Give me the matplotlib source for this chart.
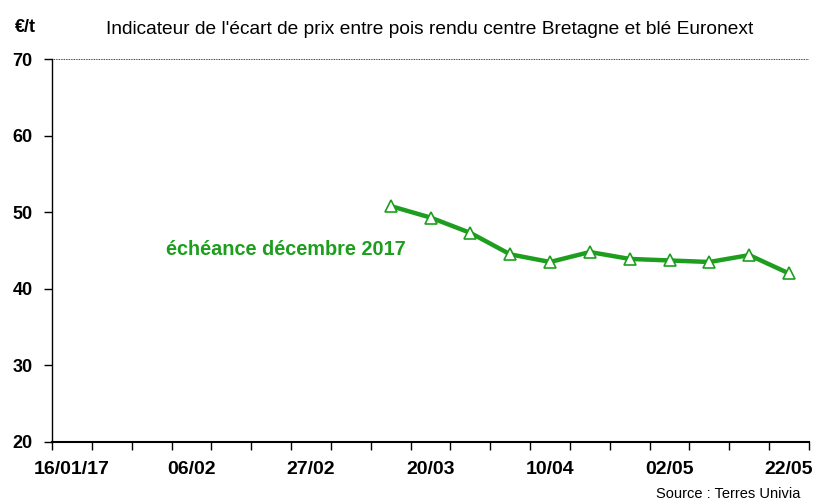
import numpy as np
import matplotlib.pyplot as plt

plt.rcParams['font.family'] = ['Liberation Sans', 'DejaVu Sans']

# weekly categories, label every 3rd week
weeks = ["16/01/17", "23/01", "30/01", "06/02", "13/02", "20/02", "27/02", "06/03",
         "13/03", "20/03", "27/03", "03/04", "10/04", "17/04", "24/04", "02/05",
         "09/05", "15/05", "22/05"]
shown = ["16/01/17", "06/02", "27/02", "20/03", "10/04", "02/05", "22/05"]

start_week = 8
ecart = [50.8, 49.3, 47.3, 44.5, 43.5, 44.8, 43.9, 43.7, 43.5, 44.4, 42.0]

green = '#1e9e1e'

fig = plt.figure(figsize=(8.13, 5.04), dpi=100)
ax = fig.add_axes([52/813, 62/504, 757/813, 383/504])

x = np.arange(start_week, start_week + len(ecart))
ax.plot(x, ecart, color=green, linewidth=3.2, marker='^', markersize=8,
        markerfacecolor='white', markeredgecolor=green, markeredgewidth=1.2,
        zorder=3)

ax.set_xlim(-0.5, len(weeks) - 0.5)
ax.set_ylim(20, 70)
ax.set_yticks(np.arange(20, 71, 10))
ax.set_yticklabels([str(v) for v in range(20, 71, 10)], fontsize=13, fontweight='bold')

ax.set_xticks(np.arange(len(weeks) + 1) - 0.5)
ax.set_xticklabels([])
ax.set_xticks([i for i, w in enumerate(weeks) if w in shown], minor=True)
ax.set_xticklabels(shown, minor=True, fontsize=14, fontweight='bold')
ax.tick_params(axis='x', which='minor', length=0, pad=14)
ax.tick_params(axis='x', which='major', length=6, width=1, color='black', direction='out')
ax.tick_params(axis='y', length=6, width=1, direction='out', pad=8)

ax.axhline(70, color='black', linewidth=0.6, linestyle=(0, (1, 1)))
for s in ['top', 'right']:
    ax.spines[s].set_visible(False)
ax.spines['left'].set_linewidth(1)
ax.spines['bottom'].set_linewidth(1.5)

fig.text(430/813, 1 - 30/504, "Indicateur de l'écart de prix entre pois rendu centre Bretagne et blé Euronext",
         ha='center', va='center', fontsize=13.8)
fig.text(15/813, 1 - 28/504, "€/t", ha='left', va='center', fontsize=13, fontweight='bold')
ax.text(2.35, 45.1, "échéance décembre 2017", color=green, fontsize=14.3, fontweight='bold',
        ha='left', va='center')
fig.text(800/813, 1 - 494/504, "Source : Terres Univia", ha='right', va='center', fontsize=10.5)

fig.savefig('out.png', dpi=100)
